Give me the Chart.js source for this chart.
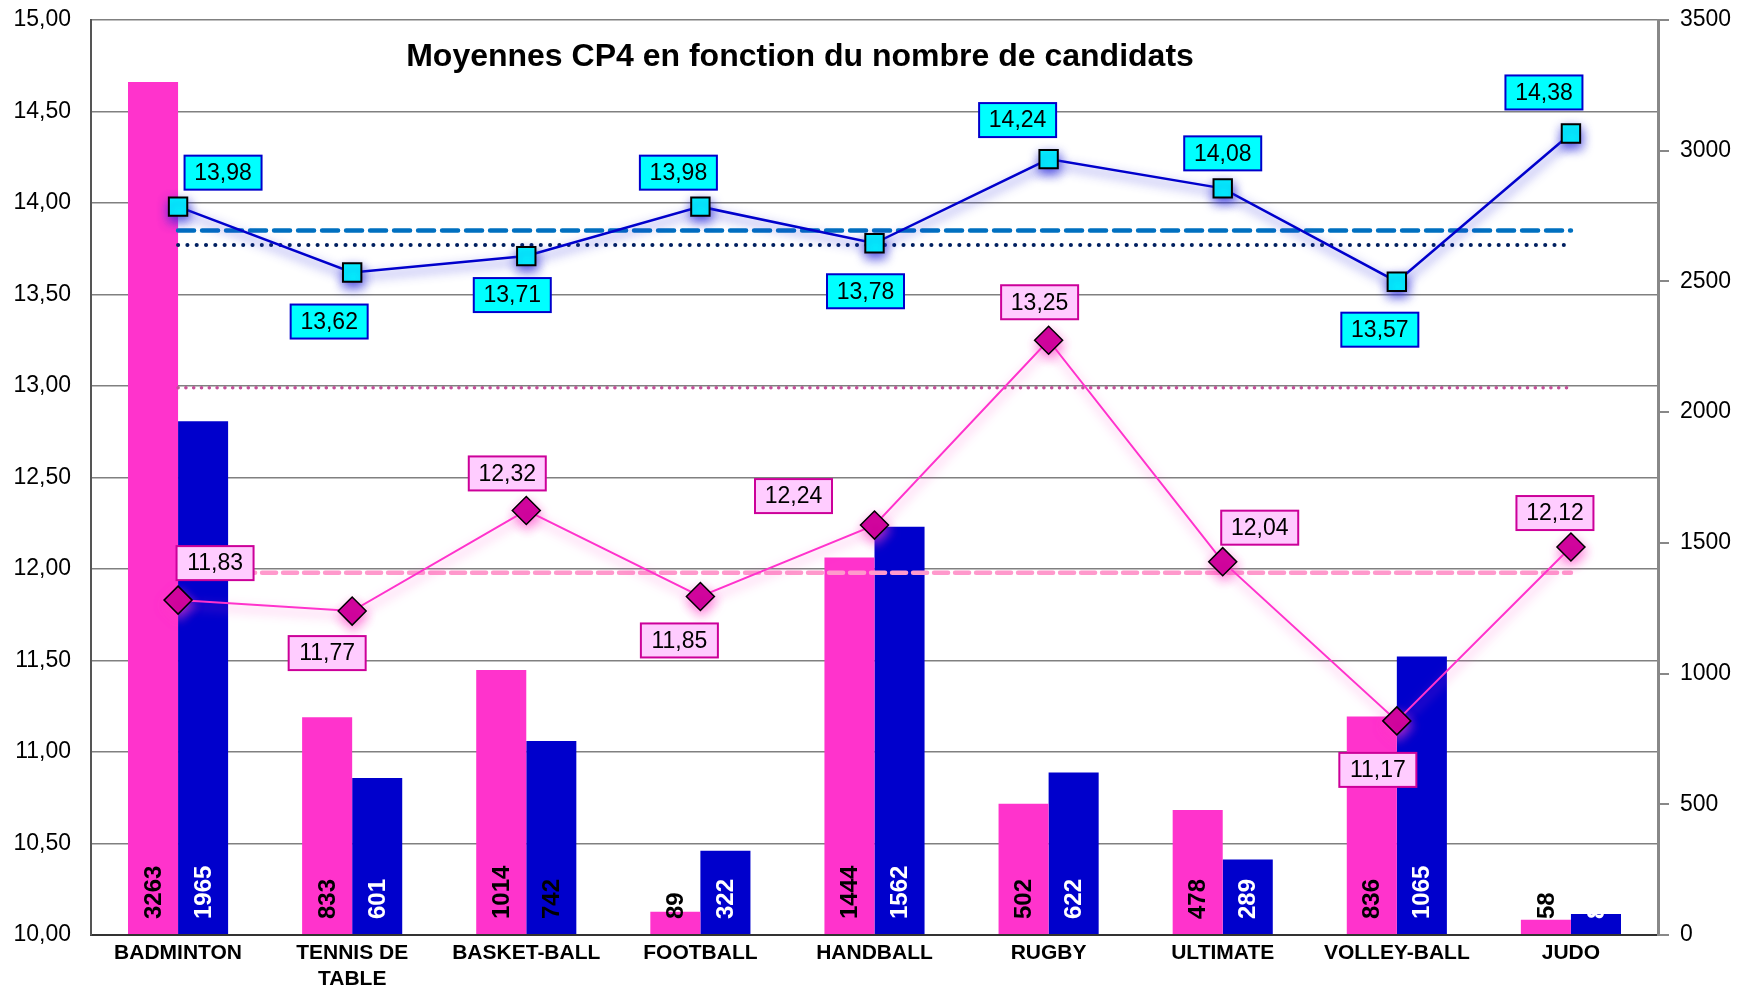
<!DOCTYPE html>
<html>
<head>
<meta charset="utf-8">
<script src="https://cdn.jsdelivr.net/npm/chart.js@4.4.1/dist/chart.umd.min.js"></script>
<style>
  html, body { margin: 0; padding: 0; background: #fff; }
  #wrap { width: 1737px; height: 985px; position: relative; }
</style>
</head>
<body>
<div id="wrap"><canvas id="c"></canvas></div>
<script>
// Activités et effectifs
const categories = ['BADMINTON', ['TENNIS DE', 'TABLE'], 'BASKET-BALL', 'FOOTBALL', 'HANDBALL', 'RUGBY', 'ULTIMATE', 'VOLLEY-BALL', 'JUDO'];
const effectifsRose = [3263, 833, 1014, 89, 1444, 502, 478, 836, 58];
const effectifsBleu = [1965, 601, 742, 322, 1562, 622, 289, 1065, 80];

// Moyennes CP4 par activité
const moyennesBleu = [13.98, 13.62, 13.71, 13.98, 13.78, 14.24, 14.08, 13.57, 14.38];
const moyennesRose = [11.83, 11.77, 12.32, 11.85, 12.24, 13.25, 12.04, 11.17, 12.12];

// Moyennes de référence (lignes horizontales)
const refBleuTirets = 13.85;
const refBleuPoints = 13.77;
const refRosePoints = 12.99;
const refRoseTirets = 11.98;

// Graduations
const leftTicks = { min: 10, max: 15, step: 0.5 };
const rightTicks = { min: 0, max: 3500, step: 500 };

const FONT = "'Liberation Sans', Arial, sans-serif";
const fmt = v => v.toFixed(2).replace('.', ',');
const flat = v => categories.map(() => v);

// Placement of value boxes relative to each marker (px)
const boxOffsetsBleu = [[45, -34], [-23, 49], [-14, 39], [-22, -34], [-9, 48], [-31, -39], [0, -35], [-17, 48], [-27, -41]];
const boxOffsetsRose = [[37, -37], [-25, 42], [-19, -37], [-21, 44], [-81, -29], [-9, -38], [37, -34], [-19, 49], [-16, -34]];

const glowPlugin = {
  id: 'glow',
  beforeDatasetDraw(chart, args) {
    const ds = chart.data.datasets[args.index];
    if (ds.glowColor) {
      const ctx = chart.ctx;
      ctx.save();
      ctx.shadowColor = ds.glowColor;
      ctx.shadowBlur = 11;
      ctx.shadowOffsetX = 1;
      ctx.shadowOffsetY = 5;
    }
  },
  afterDatasetDraw(chart, args) {
    const ds = chart.data.datasets[args.index];
    if (ds.glowColor) chart.ctx.restore();
  }
};

const labelsPlugin = {
  id: 'valueLabels',
  afterDatasetsDraw(chart) {
    const ctx = chart.ctx;
    const base = chart.scales.y2.getPixelForValue(0);

    // rotated counts inside the bars
    const barSets = [
      { idx: 0, colors: effectifsRose.map(() => '#000') },
      { idx: 1, colors: effectifsBleu.map((v, i) => i === 2 ? '#000' : '#fff') }
    ];
    barSets.forEach(({ idx, colors }) => {
      const meta = chart.getDatasetMeta(idx);
      const vals = chart.data.datasets[idx].data;
      meta.data.forEach((el, i) => {
        ctx.save();
        ctx.translate(el.x, base - 16);
        ctx.rotate(-Math.PI / 2);
        ctx.font = 'bold 24px ' + FONT;
        ctx.fillStyle = colors[i];
        ctx.textAlign = 'left';
        ctx.textBaseline = 'middle';
        ctx.fillText(String(vals[i]), 0, 1);
        ctx.restore();
      });
    });

    // boxed averages
    const boxSets = [
      { idx: 2, offs: boxOffsetsBleu, fill: '#00FFFF', stroke: '#0000CC' },
      { idx: 3, offs: boxOffsetsRose, fill: '#FFCCFF', stroke: '#CC0099' }
    ];
    const W = 77, H = 34;
    boxSets.forEach(({ idx, offs, fill, stroke }) => {
      const meta = chart.getDatasetMeta(idx);
      const vals = chart.data.datasets[idx].data;
      meta.data.forEach((el, i) => {
        const cx = el.x + offs[i][0];
        const cy = el.y + offs[i][1];
        ctx.save();
        ctx.fillStyle = fill;
        ctx.fillRect(cx - W / 2, cy - H / 2, W, H);
        ctx.lineWidth = 2;
        ctx.strokeStyle = stroke;
        ctx.strokeRect(cx - W / 2, cy - H / 2, W, H);
        ctx.font = '23px ' + FONT;
        ctx.fillStyle = '#000';
        ctx.textAlign = 'center';
        ctx.textBaseline = 'middle';
        ctx.fillText(fmt(vals[i]), cx, cy + 1);
        ctx.restore();
      });
    });

    // title
    ctx.save();
    ctx.font = 'bold 32px ' + FONT;
    ctx.fillStyle = '#000';
    ctx.textAlign = 'center';
    ctx.textBaseline = 'alphabetic';
    ctx.fillText('Moyennes CP4 en fonction du nombre de candidats', 800, 66);
    ctx.restore();
  }
};

new Chart(document.getElementById('c'), {
  data: {
    labels: categories,
    datasets: [
      { type: 'bar', data: effectifsRose, backgroundColor: '#FF33CC', yAxisID: 'y2', order: 10,
        barPercentage: 1, categoryPercentage: 0.575 },
      { type: 'bar', data: effectifsBleu, backgroundColor: '#0000CC', yAxisID: 'y2', order: 10,
        barPercentage: 1, categoryPercentage: 0.575 },
      { type: 'line', data: moyennesBleu, yAxisID: 'y', order: 1,
        borderColor: '#0000CC', borderWidth: 2.5, glowColor: 'rgba(40,40,220,0.8)',
        pointStyle: 'rect', pointRadius: 13, pointBackgroundColor: '#00FFFF',
        pointBorderColor: '#000', pointBorderWidth: 2 },
      { type: 'line', data: moyennesRose, yAxisID: 'y', order: 2,
        borderColor: '#FF33CC', borderWidth: 2, glowColor: 'rgba(255,60,200,0.65)',
        pointStyle: 'rectRot', pointRadius: 14, pointBackgroundColor: '#CC0099',
        pointBorderColor: '#000', pointBorderWidth: 1.5 },
      { type: 'line', data: flat(refBleuTirets), yAxisID: 'y', order: 5,
        borderColor: '#0070C0', borderWidth: 4.5, borderDash: [16, 8], borderCapStyle: 'round', pointRadius: 0 },
      { type: 'line', data: flat(refBleuPoints), yAxisID: 'y', order: 5,
        borderColor: '#002060', borderWidth: 4, borderDash: [0.1, 9.2], borderCapStyle: 'round', pointRadius: 0 },
      { type: 'line', data: flat(refRosePoints), yAxisID: 'y', order: 5,
        borderColor: '#C4509A', borderWidth: 3.5, borderDash: [0.1, 7.7], borderCapStyle: 'round', pointRadius: 0 },
      { type: 'line', data: flat(refRoseTirets), yAxisID: 'y', order: 5,
        borderColor: '#FF99CC', borderWidth: 4.5, borderDash: [14, 7], borderCapStyle: 'round', pointRadius: 0 }
    ]
  },
  options: {
    responsive: true,
    maintainAspectRatio: false,
    animation: false,
    layout: { padding: { top: 20, left: 0, right: 0, bottom: 0 } },
    plugins: { legend: { display: false }, tooltip: { enabled: false }, title: { display: false } },
    scales: {
      x: {
        grid: { display: false, drawTicks: false },
        border: { color: '#333', width: 2 },
        ticks: { font: { family: FONT, size: 21, weight: 'bold', lineHeight: 1.2 }, color: '#000',
                 padding: 6, maxRotation: 0, autoSkip: false },
        afterFit(s) { s.height = 50; }
      },
      y: {
        position: 'left',
        min: leftTicks.min, max: leftTicks.max,
        ticks: { stepSize: leftTicks.step, callback: v => fmt(v), font: { family: FONT, size: 23 },
                 color: '#000', padding: 2 },
        grid: { color: '#808080', lineWidth: 1.5, drawTicks: true, tickLength: 18, tickColor: 'rgba(0,0,0,0)' },
        border: { color: '#555', width: 2 },
        afterFit(s) { s.width = 91; }
      },
      y2: {
        position: 'right',
        min: rightTicks.min, max: rightTicks.max,
        ticks: { stepSize: rightTicks.step, callback: v => String(v), font: { family: FONT, size: 23 },
                 color: '#000', padding: 2 },
        grid: { drawOnChartArea: false, tickLength: 20, tickBorderDash: [9, 60], tickColor: '#888', lineWidth: 2 },
        border: { color: '#888', width: 3 },
        afterFit(s) { s.width = 79; }
      }
    }
  },
  plugins: [glowPlugin, labelsPlugin]
});
</script>
</body>
</html>
